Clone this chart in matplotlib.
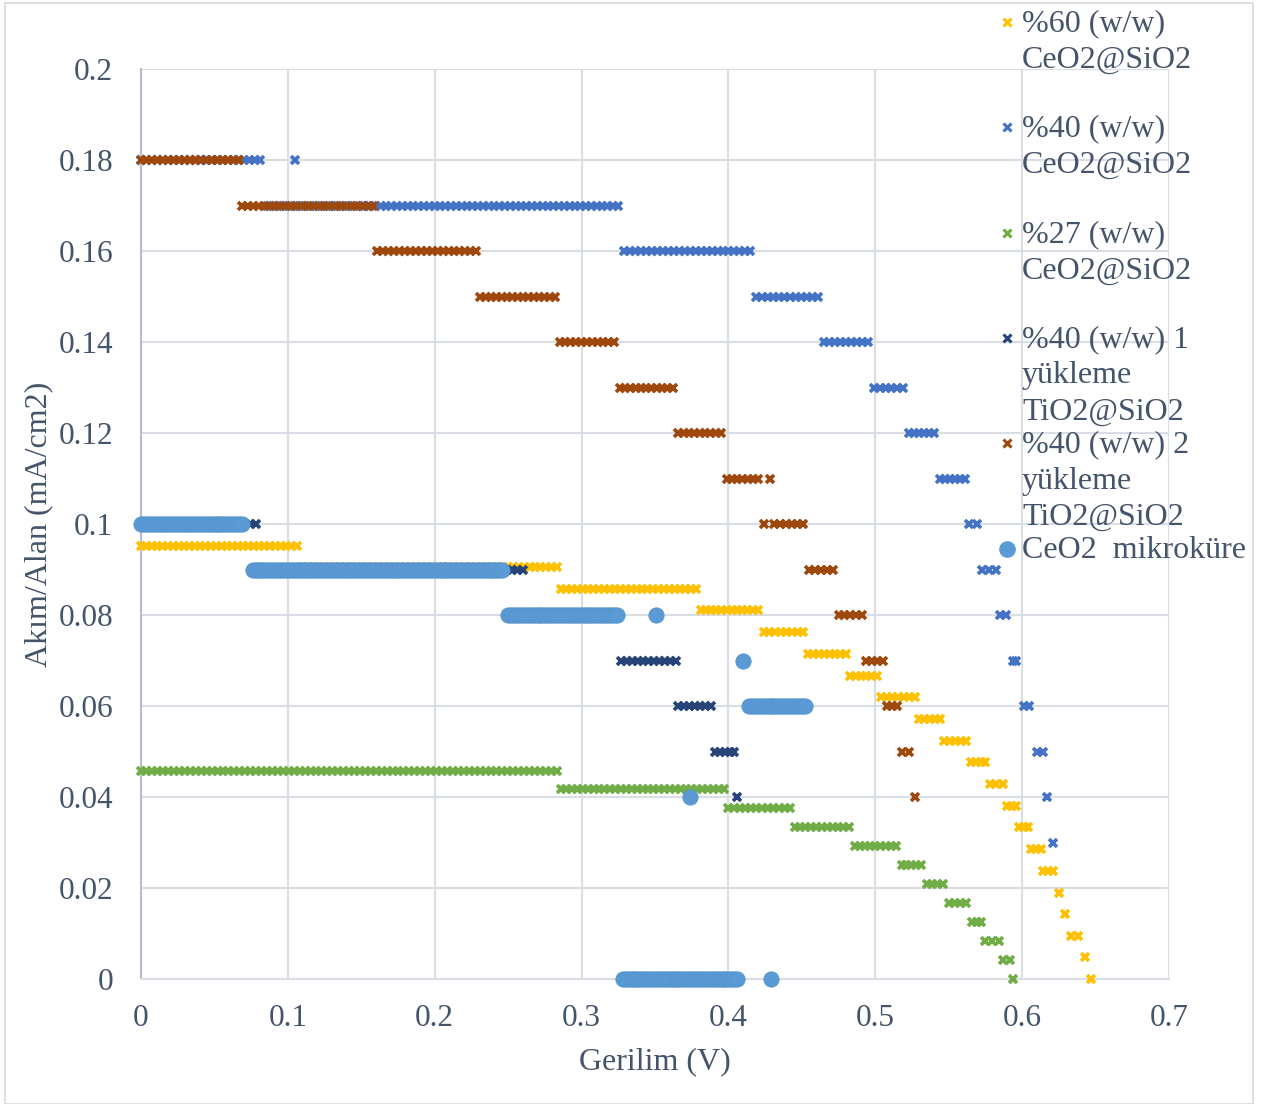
import numpy as np
import matplotlib
matplotlib.use("Agg")
import matplotlib.pyplot as plt
from matplotlib.patches import Rectangle

plt.rcParams['font.family'] = ['Liberation Serif', 'DejaVu Serif']

TEXT = '#44546A'
GRID = '#D9DDE4'

# Voltage sweep step of the measurements (V)
STEP_X = 0.0037
STEP_CIRCLE = 0.002

# Each series is stored as current plateaus: level (mA/cm2), first and last voltage (V)
y60_level = [0.0952, 0.0905, 0.0857, 0.0810, 0.0762, 0.0714, 0.0667, 0.0619, 0.0571,
             0.0524, 0.0476, 0.0429, 0.0381, 0.0333, 0.0286, 0.0238, 0.0190, 0.0143,
             0.0095, 0.0048, 0.0]
y60_start = [0.000, 0.110, 0.286, 0.381, 0.424, 0.454, 0.483, 0.504, 0.530,
             0.547, 0.565, 0.578, 0.590, 0.598, 0.606, 0.614, 0.625, 0.629,
             0.633, 0.643, 0.647]
y60_end = [0.106, 0.283, 0.378, 0.420, 0.451, 0.480, 0.501, 0.527, 0.544,
           0.562, 0.575, 0.587, 0.596, 0.604, 0.613, 0.621, 0.625, 0.629,
           0.638, 0.643, 0.647]

b40_level = [0.18, 0.18, 0.17, 0.16, 0.15, 0.14, 0.13, 0.12, 0.11, 0.10, 0.09,
             0.08, 0.07, 0.06, 0.05, 0.04, 0.03]
b40_start = [0.000, 0.105, 0.086, 0.329, 0.419, 0.465, 0.499, 0.523, 0.544, 0.564, 0.573,
             0.585, 0.594, 0.601, 0.610, 0.617, 0.621]
b40_end = [0.081, 0.105, 0.325, 0.415, 0.461, 0.495, 0.519, 0.540, 0.561, 0.569, 0.582,
           0.589, 0.596, 0.605, 0.614, 0.617, 0.621]

g27_level = [0.0458, 0.0417, 0.0375, 0.0333, 0.0292, 0.0250, 0.0208, 0.0167,
             0.0125, 0.0083, 0.0042, 0.0]
g27_start = [0.000, 0.286, 0.400, 0.445, 0.486, 0.518, 0.535, 0.550,
             0.566, 0.575, 0.587, 0.594]
g27_end = [0.283, 0.397, 0.442, 0.482, 0.514, 0.531, 0.546, 0.562,
           0.572, 0.584, 0.592, 0.594]

t1_level = [0.10, 0.09, 0.08, 0.07, 0.06, 0.05, 0.04]
t1_start = [0.000, 0.080, 0.262, 0.327, 0.366, 0.391, 0.406]
t1_end = [0.078, 0.260, 0.325, 0.364, 0.388, 0.404, 0.406]

t2_level = [0.18, 0.17, 0.16, 0.15, 0.14, 0.13, 0.12, 0.11, 0.11, 0.10, 0.10,
            0.09, 0.08, 0.07, 0.06, 0.05, 0.04]
t2_start = [0.000, 0.069, 0.161, 0.231, 0.285, 0.326, 0.366, 0.399, 0.428, 0.424, 0.431,
            0.455, 0.475, 0.494, 0.508, 0.518, 0.527]
t2_end = [0.067, 0.158, 0.228, 0.282, 0.322, 0.362, 0.395, 0.420, 0.428, 0.424, 0.451,
          0.471, 0.491, 0.505, 0.515, 0.523, 0.527]

m_level = [0.10, 0.09, 0.08, 0.08, 0.07, 0.06, 0.04, 0.0, 0.0]
m_start = [0.000, 0.076, 0.250, 0.351, 0.410, 0.414, 0.374, 0.328, 0.429]
m_end = [0.069, 0.246, 0.324, 0.351, 0.410, 0.452, 0.374, 0.406, 0.429]

labels = ['%60 (w/w)\nCeO2@SiO2', '%40 (w/w)\nCeO2@SiO2', '%27 (w/w)\nCeO2@SiO2',
          '%40 (w/w) 1\nyükleme\nTiO2@SiO2', '%40 (w/w) 2\nyükleme\nTiO2@SiO2',
          'CeO2  mikroküre']
colors = ['#FFC000', '#4472C4', '#70AD47', '#264478', '#9E480E', '#5B9BD5']

x_ticks = [0, 0.1, 0.2, 0.3, 0.4, 0.5, 0.6, 0.7]
x_tick_labels = ['0', '0.1', '0.2', '0.3', '0.4', '0.5', '0.6', '0.7']
y_ticks = [0, 0.02, 0.04, 0.06, 0.08, 0.1, 0.12, 0.14, 0.16, 0.18, 0.2]
y_tick_labels = ['0', '0.02', '0.04', '0.06', '0.08', '0.1', '0.12', '0.14', '0.16', '0.18', '0.2']

X_SIZE, X_MEW = 6.3, 2.6
O_SIZE = 11


def expand(levels, starts, ends, step):
    xs, ys = [], []
    for lv, a, b in zip(levels, starts, ends):
        n = int(round((b - a) / step)) + 1
        v = np.linspace(a, b, n) if n > 1 else np.array([a])
        xs.append(v)
        ys.append(np.full(len(v), lv))
    return np.concatenate(xs), np.concatenate(ys)


fig = plt.figure(figsize=(12.68, 11.04), dpi=100)
ax = fig.add_axes([141 / 1268, 1 - 979 / 1104, 1028 / 1268, 910 / 1104])

series = [(y60_level, y60_start, y60_end), (b40_level, b40_start, b40_end),
          (g27_level, g27_start, g27_end), (t1_level, t1_start, t1_end),
          (t2_level, t2_start, t2_end)]
for i, (lv, st, en) in enumerate(series):
    x, y = expand(lv, st, en, STEP_X)
    ax.plot(x, y, linestyle='none', marker='x', markersize=X_SIZE, mew=X_MEW,
            color=colors[i], zorder=3 + i, clip_on=False)

xm, ym = expand(m_level, m_start, m_end, STEP_CIRCLE)
ax.plot(xm, ym, linestyle='none', marker='o', markersize=O_SIZE, mew=0.6,
        color=colors[5], markeredgecolor='#5594CE', zorder=9, clip_on=False)

ax.set_xlim(0, 0.7)
ax.set_ylim(0, 0.2)
ax.set_xticks(x_ticks)
ax.set_xticklabels(x_tick_labels)
ax.set_yticks(y_ticks)
ax.set_yticklabels(y_tick_labels)
ax.tick_params(length=0, labelsize=22.5, labelcolor=TEXT)
ax.tick_params(axis='y', pad=20)
ax.tick_params(axis='x', pad=18)
ax.grid(True, color=GRID, linewidth=1.5, zorder=0)
ax.set_axisbelow(True)
for s in ['top', 'right']:
    ax.spines[s].set_visible(False)
ax.spines['bottom'].set_color(GRID)
ax.spines['bottom'].set_linewidth(1.5)
ax.spines['left'].set_color('#B4BDCB')
ax.spines['left'].set_linewidth(1.5)

ax.set_xlabel('Gerilim (V)', fontsize=23, color=TEXT, labelpad=10)
ax.set_ylabel('Akım/Alan (mA/cm2)', fontsize=23, color=TEXT, labelpad=4)

# Legend drawn as text entries on the right, overlapping the plot area
entry_y = [22, 127, 233, 338, 443, 549]
for i, (lab, col, yy) in enumerate(zip(labels, colors, entry_y)):
    yf = 1 - yy / 1104
    if i < 5:
        mk = dict(marker='x', markersize=5.2, mew=2.2)
    else:
        mk = dict(marker='o', markersize=O_SIZE)
    fig.lines.append(plt.Line2D([1007 / 1268], [yf], transform=fig.transFigure,
                                color=col, linestyle='none', **mk))
    for k, ln in enumerate(lab.split('\n')):
        fig.text(1022 / 1268, 1 - (yy + 2 + 36 * k) / 1104, ln, fontsize=23, color=TEXT,
                 ha='left', va='center')

fig.patches.append(Rectangle((5 / 1268, 0.0), 1248 / 1268, 1 - 3 / 1104,
                             transform=fig.transFigure, fill=False,
                             edgecolor='#D9D9D9', linewidth=1.2))

fig.savefig('out.png', dpi=100)
